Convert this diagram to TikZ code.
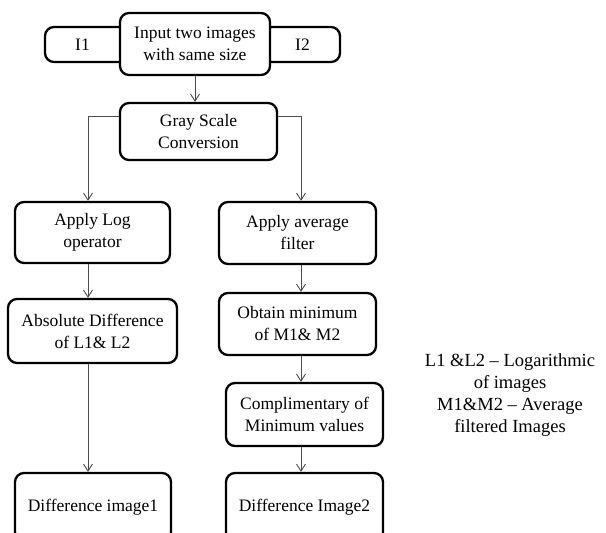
\documentclass[tikz,border=0pt]{standalone}
\usepackage{fontspec}
\setmainfont{Liberation Serif}
\usetikzlibrary{arrows.meta,calc}
\begin{document}
\begin{tikzpicture}[x=1pt,y=-1pt,
  flowbox/.style={draw=black,line width=2.3pt,rounded corners=9pt,fill=white,
    align=center,inner sep=0pt,font=\fontsize{17.5}{22}\selectfont},
  conn/.style={draw=black!70,line width=0.9pt,-{Straight Barb[length=7pt,width=9pt]}},
  plainline/.style={draw=black!70,line width=0.9pt}]
\useasboundingbox (0,0) rectangle (606,533);
\clip (0,0) rectangle (606,533);
\coordinate (cl) at (88,0);
\coordinate (cr) at (301,0);
% side boxes behind the input box
\node[flowbox,minimum width=85pt,minimum height=35pt] (i1) at (87.5,44.5) {\hspace*{-10pt}I1};
\node[flowbox,minimum width=77pt,minimum height=35pt] (i2) at (301.5,44.5) {\hspace*{2pt}I2};
\node[flowbox,minimum width=150pt,minimum height=62pt] (input) at (195,44) {Input two images\\with same size};
\node[flowbox,minimum width=157pt,minimum height=57pt] (gray) at (198.5,131.5) {Gray Scale\\Conversion};
\node[flowbox,minimum width=155pt,minimum height=61pt] (log) at (92.5,232.5) {Apply Log\\operator};
\node[flowbox,minimum width=157pt,minimum height=62pt] (avg) at (297.5,233) {Apply average\\filter};
\node[flowbox,minimum width=169pt,minimum height=64pt] (abs) at (92.5,331) {Absolute Difference\\of L1\& L2};
\node[flowbox,minimum width=157pt,minimum height=62pt] (obt) at (297.5,324) {Obtain minimum\\of M1\& M2};
\node[flowbox,minimum width=157pt,minimum height=63pt] (comp) at (304.5,414.5) {Complimentary of\\Minimum values};
\node[flowbox,minimum width=156pt,minimum height=68pt] (d1) at (93,507) {Difference image1};
\node[flowbox,minimum width=157pt,minimum height=68pt] (d2) at (304.5,507) {Difference Image2};
\node[align=center,font=\fontsize{18.5}{22}\selectfont] (legend) at (510,395)
  {L1 \&L2 -- Logarithmic\\of images\\M1\&M2 -- Average\\filtered Images};
% connectors
\draw[conn] (input.south) -- (input.south |- gray.north);
\coordinate (gl) at ($(gray.north west)!0.25!(gray.south west)$);
\coordinate (gr) at ($(gray.north east)!0.25!(gray.south east)$);
\draw[conn] (gl) -| (log.north -| cl);
\draw[conn] (gr) -| (avg.north -| cr);
\draw[conn] (log.south -| cl) -- (abs.north -| cl);
\draw[conn] (abs.south -| cl) -- (d1.north -| cl);
\draw[conn] (avg.south -| cr) -- (obt.north -| cr);
\draw[conn] (obt.south -| cr) -- (comp.north -| cr);
\draw[conn] (comp.south -| cr) -- (d2.north -| cr);
\end{tikzpicture}
\end{document}
